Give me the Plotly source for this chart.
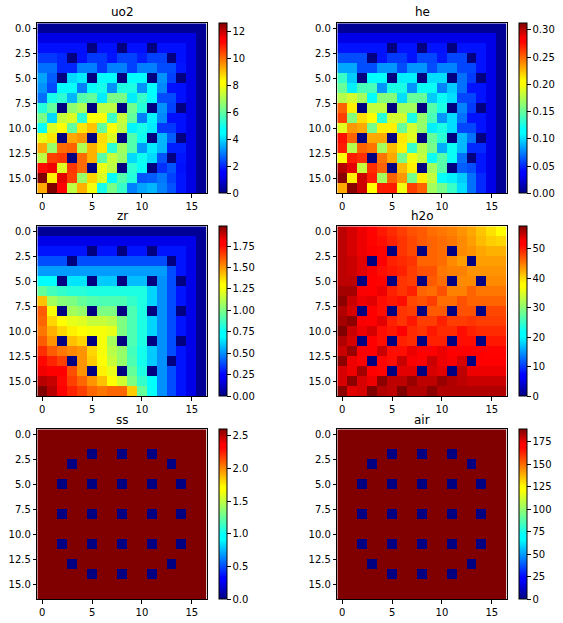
import plotly.graph_objects as go

W, H = 563, 623
names = ["uo2", "he", "zr", "h2o", "ss", "air"]

uo2 = [
[.25]*17,
[1.1]*16+[.25],
[1.75,1.75,1.75,1.75,1.75,0,1.75,1.75,0,1.75,1.75,0,1.75,1.75,1.75,1.1,.25],
[2.2,2.2,2.0,0,1.75,2.2,2.2,1.8,2.3,2.3,1.9,2.3,2.3,0,1.75,1.1,.25],
[2.8,2.8,2.0,2.0,3.0,3.0,2.2,3.0,3.0,2.3,3.0,3.0,2.4,2.4,1.8,1.1,.25],
[3.4,2.6,0,4.0,4.2,0,4.4,4.4,0,4.5,4.5,0,3.2,2.3,0,1.1,.25],
[3.2,2.4,4.6,4.8,3.0,4.8,5.0,3.2,5.1,5.1,3.2,4.5,3.1,1.75,1.75,1.1,.25],
[2.8,5,5.3,3.6,5.8,6,4.2,6.3,6.3,4.2,5.4,4.4,2.4,2.4,1.75,1.1,.25],
[5.2,6,0,6.6,7,0,7.2,7.2,0,6.2,5.2,0,3.2,2.3,0,1.1,.25],
[6.3,4,7.3,7.6,5.3,8,8,5.5,7.3,6,3,4.3,3.1,1.75,1.75,1.1,.25],
[4.8,7.6,8.1,6,8.6,9,6,8,7.2,4.3,5,4.2,2.2,2.2,1.75,1.1,.25],
[7.8,8.6,0,9.3,9.5,0,8.7,7.6,0,5.8,4.9,0,3.6,2.6,0,1.1,.25],
[9.3,6.7,10,10.1,7,9.2,8.6,5.3,6.8,5.8,3.3,4.2,3.6,1.9,1.9,1.1,.25],
[7.2,10.5,10.6,0,10,9.2,5.9,7.3,6.7,4,4.9,4,2.5,0,1.8,1.1,.25],
[11.1,11.6,7.6,10.6,10,0,7.8,7.2,0,5.3,4.8,0,2.1,2.5,1.75,1.1,.25],
[12.6,8.5,11.7,10.5,6.7,8.8,7.6,4.4,5.8,5.2,2.5,2.6,2.9,2.3,1.8,1.1,.25],
[9.3,12.6,11.2,7.2,9.2,7.9,5,6.3,5.4,3,3.4,3.6,3,2.5,1.8,1.1,.25],
]

he = [
[.006]*17,
[.028]*16+[.006],
[.044,.044,.044,.044,.044,0,.044,.044,0,.044,.044,0,.044,.044,.044,.028,.006],
[.06,.06,.06,0,.044,.055,.055,.044,.058,.058,.045,.058,.058,0,.044,.028,.006],
[.085,.085,.06,.06,.08,.08,.06,.08,.08,.06,.075,.075,.058,.058,.044,.028,.006],
[.135,.095,0,.115,.115,0,.105,.105,0,.1,.1,0,.07,.055,0,.028,.006],
[.15,.105,.14,.14,.08,.125,.125,.08,.12,.12,.075,.095,.07,.044,.044,.028,.006],
[.175,.185,.17,.115,.16,.16,.1,.15,.15,.095,.12,.1,.058,.058,.044,.028,.006],
[.25,.21,0,.18,.18,0,.17,.17,0,.145,.125,0,.075,.055,0,.028,.006],
[.26,.16,.215,.2,.13,.185,.185,.125,.165,.14,.08,.1,.07,.044,.044,.028,.006],
[.19,.235,.23,.155,.21,.21,.15,.185,.165,.105,.125,.1,.058,.058,.044,.028,.006],
[.274,.25,0,.23,.23,0,.212,.19,0,.15,.13,0,.09,.07,0,.028,.006],
[.27,.175,.25,.245,.17,.225,.21,.135,.175,.155,.087,.12,.09,.05,.05,.028,.006],
[.2,.27,.265,0,.245,.23,.155,.195,.18,.12,.145,.12,.07,0,.045,.028,.006],
[.3,.29,.18,.265,.25,0,.225,.21,0,.17,.145,0,.065,.06,.045,.028,.006],
[.31,.21,.295,.27,.17,.25,.235,.155,.21,.18,.11,.105,.095,.07,.05,.028,.006],
[.23,.31,.295,.2,.27,.27,.195,.26,.25,.17,.155,.135,.1,.07,.05,.028,.006],
]

zr = [
[.04]*17,
[.18]*16+[.04],
[.28,.28,.28,.28,.28,0,.28,.28,0,.28,.28,0,.28,.28,.28,.18,.04],
[.38,.38,.38,0,.38,.38,.38,.38,.38,.38,.38,.38,.38,0,.28,.18,.04],
[.52,.52,.52,.52,.52,.52,.52,.52,.52,.52,.52,.52,.52,.38,.28,.18,.04],
[.72,.72,0,.65,.65,0,.6,.6,0,.58,.58,0,.5,.38,0,.18,.04],
[.95,.88,.85,.82,.82,.8,.8,.8,.8,.8,.8,.62,.5,.38,.28,.18,.04],
[1.42,1.08,1.02,1.0,.95,.92,.9,.9,.9,.85,.8,.62,.5,.38,.28,.18,.04],
[1.6,1.25,0,1.08,1.05,0,1.0,1.0,0,.9,.8,0,.5,.38,0,.18,.04],
[1.58,1.38,1.28,1.22,1.2,1.15,1.15,1.12,1.0,.9,.8,.62,.5,.38,.28,.18,.04],
[1.55,1.45,1.38,1.33,1.28,1.25,1.25,1.22,1.0,.9,.8,.62,.5,.38,.28,.18,.04],
[1.6,1.5,0,1.42,1.38,0,1.25,1.08,0,.9,.8,0,.5,.38,0,.18,.04],
[1.68,1.6,1.55,1.52,1.5,1.38,1.25,1.12,1.05,.88,.78,.6,.5,.38,.28,.18,.04],
[1.75,1.7,1.65,0,1.5,1.4,1.28,1.15,1.05,.9,.78,.6,.5,0,.28,.18,.04],
[1.82,1.8,1.78,1.62,1.5,0,1.33,1.22,0,.95,.8,0,.5,.38,.28,.18,.04],
[1.9,1.88,1.75,1.65,1.58,1.5,1.42,1.3,1.17,1.0,.85,.7,.5,.38,.28,.18,.04],
[1.98,1.9,1.78,1.7,1.65,1.58,1.55,1.58,1.58,1.4,.95,.75,.5,.38,.28,.18,.04],
]

h2o = [
[55,54,53,51,50,49,48,47,46.5,45.5,45,44.5,43.5,42.5,41,39.5,38],
[55,54,53,51,50.5,49.5,48.5,47.5,46.5,46,45.5,45,44,43,41.5,40.5,40],
[55,54,53,52,51,0,48.5,47.5,0,46,45.5,0,44,43.5,42.5,42,42],
[55,54.5,53.5,0,51.5,49.5,49,48.5,46,46,45.5,44,43,0,43,43,43],
[55,54.5,53.5,52.5,50.5,50,49.5,48,47,47,45,44.5,44.5,43.5,43.5,43.5,43.5],
[55,55,0,52,51,0,48.5,48,0,46.5,45.5,0,44,44,0,44,44],
[56,56,52.5,51.5,53,49.5,48.5,49.5,46,45.5,47,44.5,44.5,46,45,45,45],
[57,54.5,53,53.5,50.5,50,50.5,47.5,47,48,45.5,45.5,47,46,46,46,46],
[55.5,54,0,51.5,50.5,0,48.5,48,0,46.5,46.5,0,47,47,0,47.5,47.5],
[56,57,52.5,51.5,53.5,49.5,48.5,50,48,48,49.5,48,48,48.5,48,48,48],
[57.5,54.5,53,54,50.5,50,51.5,49,48.5,50,49,49,50.5,49.5,49,49,49],
[55.5,54,0,51.5,50.5,0,49.5,49,0,49.5,49.5,0,50.5,50.5,0,50,50],
[54.5,56.5,52.5,51.5,54.5,50.5,50.5,53,51.5,51.5,53,51.5,51.5,52,51.5,51,51],
[57,53,51.5,0,51,50.5,54.5,52.5,51.5,54.5,53,52.5,54,0,52,52,52],
[54,53,56,51.5,51,0,53.5,53.5,0,54,53.5,0,55,53,53,53,53],
[54,57,54,53,57,55,55,56.5,55,55,56.5,55.5,55,54.5,54.5,54.5,54.5],
[57,53.5,54,57.5,55.5,55,57.5,55.5,55.5,57,55.5,55.5,55.5,55.5,55.5,55.5,55.5],
]

S = 2.6
ss = [
[S]*17,
[S]*17,
[S,S,S,S,S,0,S,S,0,S,S,0,S,S,S,S,S],
[S,S,S,0,S,S,S,S,S,S,S,S,S,0,S,S,S],
[S]*17,
[S,S,0,S,S,0,S,S,0,S,S,0,S,S,0,S,S],
[S]*17,
[S]*17,
[S,S,0,S,S,0,S,S,0,S,S,0,S,S,0,S,S],
[S]*17,
[S]*17,
[S,S,0,S,S,0,S,S,0,S,S,0,S,S,0,S,S],
[S]*17,
[S,S,S,0,S,S,S,S,S,S,S,S,S,0,S,S,S],
[S,S,S,S,S,0,S,S,0,S,S,0,S,S,S,S,S],
[S]*17,
[S]*17,
]

A = 189
air = [
[A]*17,
[A]*17,
[A,A,A,A,A,0,A,A,0,A,A,0,A,A,A,A,A],
[A,A,A,0,A,A,A,A,A,A,A,A,A,0,A,A,A],
[A]*17,
[A,A,0,A,A,0,A,A,0,A,A,0,A,A,0,A,A],
[A]*17,
[A]*17,
[A,A,0,A,A,0,A,A,0,A,A,0,A,A,0,A,A],
[A]*17,
[A]*17,
[A,A,0,A,A,0,A,A,0,A,A,0,A,A,0,A,A],
[A]*17,
[A,A,A,0,A,A,A,A,A,A,A,A,A,0,A,A,A],
[A,A,A,A,A,0,A,A,0,A,A,0,A,A,A,A,A],
[A]*17,
[A]*17,
]

panels = [uo2, he, zr, h2o, ss, air]
zmaxes = [12.6, 0.312, 1.98, 57.5, 2.6, 189]
cb_dticks = [2, 0.05, 0.25, 10, 0.5, 25]
cb_formats = [".0f", ".2f", ".2f", ".0f", ".1f", ".0f"]
x_ticks = [0, 5, 10, 15]
y_ticks = [0, 2.5, 5, 7.5, 10, 12.5, 15]
y_labels = ["0.0", "2.5", "5.0", "7.5", "10.0", "12.5", "15.0"]

jet = [[0, "rgb(0,0,128)"], [0.11, "rgb(0,0,255)"], [0.125, "rgb(0,0,255)"],
       [0.35, "rgb(0,255,255)"], [0.375, "rgb(0,255,255)"], [0.64, "rgb(255,255,0)"],
       [0.66, "rgb(255,255,0)"], [0.89, "rgb(255,0,0)"], [0.91, "rgb(255,0,0)"],
       [1, "rgb(128,0,0)"]]

lefts = [37.3, 337.3]
tops = [23.3, 226.3, 429.3]
side_w, side_h = 169.4, 170
cb_gap = 12.3
cb_w = 8.4
title_y = [12, 216, 420]
FONT = "DejaVu Sans"

fig = go.Figure()
annotations = []
for i, (name, z) in enumerate(zip(names, panels)):
    r, c = i // 2, i % 2
    x0, y0 = lefts[c], tops[r]
    suffix = "" if i == 0 else str(i + 1)
    fig.add_trace(go.Heatmap(
        z=z, xaxis=f"x{suffix}", yaxis=f"y{suffix}", colorscale=jet, zmin=0, zmax=zmaxes[i],
        xgap=0, ygap=0, hoverongaps=False,
        colorbar=dict(
            x=(x0 + side_w + cb_gap) / W, xanchor="left", xpad=0, ypad=0,
            y=1 - y0 / H, yanchor="top", len=side_h, lenmode="pixels",
            thickness=cb_w, thicknessmode="pixels",
            outlinewidth=1, outlinecolor="black",
            ticks="outside", ticklen=3.5, tickwidth=1, tickcolor="black",
            tick0=0, dtick=cb_dticks[i], tickformat=cb_formats[i],
            tickfont=dict(family=FONT, size=10, color="black"),
        ),
    ))
    common = dict(showline=True, mirror=True, linecolor="black", linewidth=1,
                  ticks="outside", ticklen=3.5, tickwidth=1, tickcolor="black",
                  showgrid=False, zeroline=False,
                  tickfont=dict(family=FONT, size=10, color="black"))
    fig.update_layout({
        f"xaxis{suffix}": dict(domain=[x0 / W, (x0 + side_w) / W], range=[-0.5, 16.5],
                               tickmode="array", tickvals=x_ticks,
                               ticktext=[str(t) for t in x_ticks],
                               anchor=f"y{suffix}", **common),
        f"yaxis{suffix}": dict(domain=[1 - (y0 + side_h) / H, 1 - y0 / H], range=[16.5, -0.5],
                               tickmode="array", tickvals=y_ticks, ticktext=y_labels,
                               anchor=f"x{suffix}", **common),
    })
    annotations.append(dict(text=name, x=(x0 + side_w / 2) / W, y=1 - title_y[r] / H,
                            xref="paper", yref="paper", showarrow=False,
                            xanchor="center", yanchor="middle",
                            font=dict(family=FONT, size=12, color="black")))

fig.update_layout(width=W, height=H, margin=dict(l=0, r=0, t=0, b=0),
                  paper_bgcolor="white", plot_bgcolor="white", annotations=annotations)
fig.write_html("out.html", post_script="document.body.style.margin='0';", config={"displayModeBar": False})
